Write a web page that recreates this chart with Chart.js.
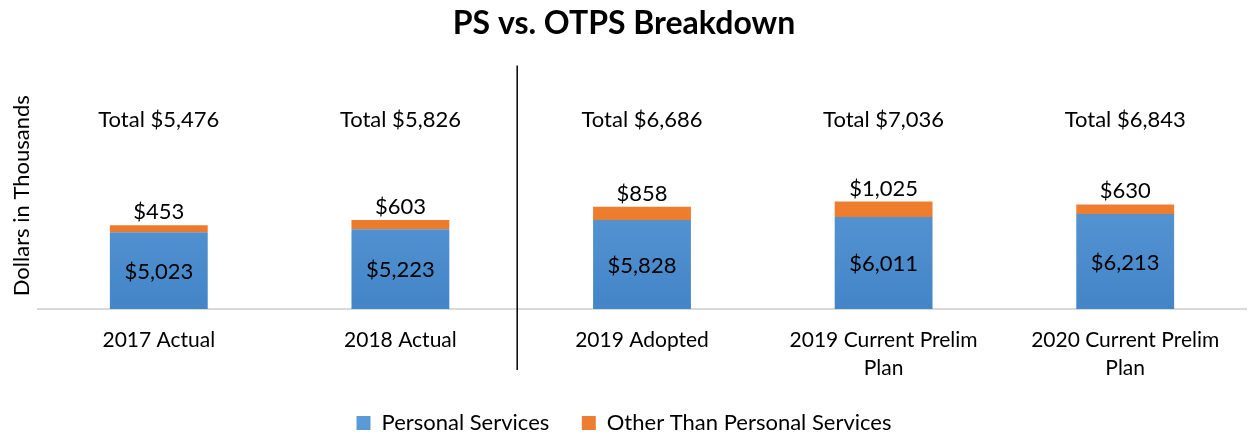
<!DOCTYPE html>
<html>
<head>
<meta charset="utf-8">
<script src="https://cdn.jsdelivr.net/npm/chart.js@4/dist/chart.umd.min.js"></script>
<style>
  html, body { margin: 0; padding: 0; background: #fff; }
  #wrap { width: 1248px; height: 433px; }
</style>
</head>
<body>
<div id="wrap"><canvas id="myChart"></canvas></div>
<script>
const categories = [['2017 Actual'], ['2018 Actual'], ['2019 Adopted'], ['2019 Current Prelim', 'Plan'], ['2020 Current Prelim', 'Plan']];
const personalServices = [5023, 5223, 5828, 6011, 6213];
const otherThanPersonal = [453, 603, 858, 1025, 630];
const totals = personalServices.map((v, i) => v + otherThanPersonal[i]);

const fontFamily = 'Lato, "Open Sans", sans-serif';
const money = v => '$' + v.toLocaleString('en-US');

function gradient(ctx, top, bottom) {
  const chart = ctx.chart;
  const area = chart.chartArea;
  if (!area) return bottom;
  const el = ctx.element;
  const y0 = el && el.y !== undefined ? Math.min(el.y, el.base) : area.top;
  const y1 = el && el.base !== undefined ? Math.max(el.y, el.base) : area.bottom;
  if (!isFinite(y0) || !isFinite(y1) || y0 === y1) return bottom;
  const g = chart.ctx.createLinearGradient(0, y0, 0, y1);
  g.addColorStop(0, top);
  g.addColorStop(1, bottom);
  return g;
}

// labels on the bars and the totals row
const labelPlugin = {
  id: 'barLabels',
  afterDatasetsDraw(chart) {
    const ctx = chart.ctx;
    const ps = chart.getDatasetMeta(0).data;
    const ot = chart.getDatasetMeta(1).data;
    const yScale = chart.scales.y;
    ctx.save();
    ctx.font = '22px ' + fontFamily;
    ctx.fillStyle = '#000';
    ctx.textAlign = 'center';
    ps.forEach((bar, i) => {
      ctx.textBaseline = 'middle';
      ctx.fillText(money(personalServices[i]), bar.x, (bar.y + bar.base) / 2 + 1);
      ctx.textBaseline = 'bottom';
      ctx.fillText(money(otherThanPersonal[i]), ot[i].x, ot[i].y - 2);
      ctx.textBaseline = 'middle';
      ctx.fillText('Total ' + money(totals[i]), bar.x, yScale.getPixelForValue(12400));
    });
    ctx.restore();
  }
};

// vertical divider between actuals and plans, plus the y axis title
const dividerPlugin = {
  id: 'divider',
  afterDraw(chart) {
    const x = chart.scales.x;
    const px = (x.getPixelForValue(1) + x.getPixelForValue(2)) / 2 - 4;
    const ctx = chart.ctx;
    ctx.save();
    ctx.strokeStyle = '#000';
    ctx.lineWidth = 1.5;
    ctx.beginPath();
    ctx.moveTo(px, chart.chartArea.top + 1);
    ctx.lineTo(px, chart.chartArea.bottom + 61);
    ctx.stroke();

    ctx.translate(22, (chart.chartArea.top + chart.chartArea.bottom) / 2 + 9);
    ctx.rotate(-Math.PI / 2);
    ctx.font = '22px ' + fontFamily;
    ctx.fillStyle = '#000';
    ctx.textAlign = 'center';
    ctx.textBaseline = 'middle';
    ctx.fillText('Dollars in Thousands', 0, 0);
    ctx.restore();
  }
};

const ctx = document.getElementById('myChart').getContext('2d');
new Chart(ctx, {
  type: 'bar',
  data: {
    labels: categories,
    datasets: [
      {
        label: 'Personal Services',
        data: personalServices,
        backgroundColor: c => gradient(c, '#6ea8df', '#4385c8'),
        barPercentage: 0.405,
        categoryPercentage: 1
      },
      {
        label: 'Other Than Personal Services',
        data: otherThanPersonal,
        backgroundColor: c => gradient(c, '#f7923f', '#e86f22'),
        barPercentage: 0.405,
        categoryPercentage: 1
      }
    ]
  },
  options: {
    responsive: true,
    maintainAspectRatio: false,
    animation: false,
    layout: { padding: { left: 2, right: 2, top: 0, bottom: -11 } },
    scales: {
      x: {
        stacked: true,
        grid: { display: false },
        border: { color: '#d9d9d9', width: 2 },
        ticks: {
          color: '#000',
          font: { family: fontFamily, size: 21, lineHeight: 1.3 },
          padding: 10,
          maxRotation: 0
        },
        afterFit(scale) { scale.height = 98; }
      },
      y: {
        stacked: true,
        min: 0,
        max: 16000,
        grid: { display: false },
        border: { display: false },
        ticks: { display: false },
        afterFit(scale) { scale.width = 36; }
      }
    },
    plugins: {
      title: {
        display: true,
        text: 'PS vs. OTPS Breakdown',
        color: '#000',
        font: { family: fontFamily, size: 32, weight: 'bold' },
        padding: { top: 4, bottom: 22 }
      },
      legend: {
        position: 'bottom',
        labels: {
          color: '#000',
          font: { family: fontFamily, size: 22 },
          boxWidth: 14,
          boxHeight: 14,
          padding: 5,
          generateLabels(chart) {
            const colors = ['#5b9bd5', '#ed7d31'];
            return chart.data.datasets.map((ds, i) => ({
              text: i === 0 ? ds.label + '\u2003\u2002' : ds.label,
              fillStyle: colors[i],
              strokeStyle: colors[i],
              lineWidth: 0,
              datasetIndex: i
            }));
          }
        }
      },
      tooltip: { enabled: false }
    }
  },
  plugins: [labelPlugin, dividerPlugin]
});
</script>
</body>
</html>
